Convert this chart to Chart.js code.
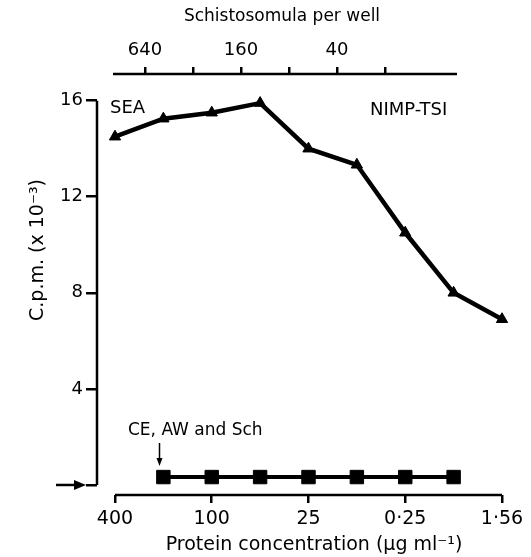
<!DOCTYPE html>
<html>
<head>
<meta charset="utf-8">
<script src="https://cdn.jsdelivr.net/npm/chart.js@4.4.1/dist/chart.umd.min.js"></script>
<style>
  html, body { margin: 0; padding: 0; background: #fff; }
  #wrap { width: 531px; height: 557px; position: relative; }
</style>
</head>
<body>
<div id="wrap"><canvas id="grafica"></canvas></div>
<script>
// Eje inferior: concentración de proteína (una posición por dilución)
const concLabels = ['400', '', '100', '', '25', '', '0·25', '', '1·56'];
// Eje superior: esquistosómulas por pocillo
const schistoLabels = ['640', '', '160', '', '40', ''];
const yTicks = [0, 4, 8, 12, 16];

// Valores (c.p.m. x 10^-3)
const seaValues = [14.5, 15.25, 15.5, 15.9, 14.0, 13.33, 10.5, 8.0, 6.9];
const ceAwSchValues = [null, 0.33, 0.33, 0.33, 0.33, 0.33, 0.33, 0.33, null];

const FUENTE = "'DejaVu Sans', sans-serif";
Chart.defaults.font.family = FUENTE;
Chart.defaults.color = '#000';

// Dibuja las líneas de los ejes, los títulos y las anotaciones
const decoracion = {
    id: 'decoracion',
    afterDraw(chart) {
        const { ctx, chartArea } = chart;
        const { x, x2, y } = chart.scales;
        ctx.save();
        ctx.strokeStyle = '#000';
        ctx.fillStyle = '#000';
        ctx.lineWidth = 2.5;

        // lineas de ejes
        ctx.beginPath();
        ctx.moveTo(chartArea.left, y.getPixelForValue(16));
        ctx.lineTo(chartArea.left, y.getPixelForValue(0));
        ctx.moveTo(x.getPixelForValue(0), chartArea.bottom);
        ctx.lineTo(x.getPixelForValue(8), chartArea.bottom);
        ctx.moveTo(x2.getPixelForValue(-0.667), chartArea.top);
        ctx.lineTo(x2.getPixelForValue(6.5), chartArea.top);
        ctx.stroke();

        // flecha del cero
        const y0 = y.getPixelForValue(0);
        ctx.beginPath();
        ctx.moveTo(56, y0);
        ctx.lineTo(76, y0);
        ctx.stroke();
        ctx.beginPath();
        ctx.moveTo(86, y0);
        ctx.lineTo(74, y0 - 5);
        ctx.lineTo(74, y0 + 5);
        ctx.closePath();
        ctx.fill();

        // titulos
        ctx.textAlign = 'center';
        ctx.textBaseline = 'middle';
        ctx.font = '17px ' + FUENTE;
        ctx.fillText('Schistosomula per well', 282, 17);
        ctx.font = '19px ' + FUENTE;
        ctx.fillText('Protein concentration (μg ml⁻¹)', 314, 545);
        ctx.save();
        ctx.translate(38, 250);
        ctx.rotate(-Math.PI / 2);
        ctx.font = '19px ' + FUENTE;
        ctx.fillText('C.p.m. (x 10⁻³)', 0, 0);
        ctx.restore();

        // anotaciones
        ctx.textAlign = 'left';
        ctx.font = '18px ' + FUENTE;
        ctx.fillText('SEA', 110, 108);
        ctx.fillText('NIMP-TSI', 370, 110);
        ctx.font = '17px ' + FUENTE;
        ctx.fillText('CE, AW and Sch', 128, 431);

        // flecha hacia CE, AW and Sch
        const xa = x.getPixelForValue(0.92);
        ctx.lineWidth = 1.5;
        ctx.beginPath();
        ctx.moveTo(xa, 443);
        ctx.lineTo(xa, 460);
        ctx.stroke();
        ctx.beginPath();
        ctx.moveTo(xa, 466);
        ctx.lineTo(xa - 3, 458);
        ctx.lineTo(xa + 3, 458);
        ctx.closePath();
        ctx.fill();
        ctx.restore();
    }
};

const ctx = document.getElementById('grafica').getContext('2d');
const grafica = new Chart(ctx, {
    type: 'line',
    data: {
        datasets: [{
            label: 'SEA',
            data: seaValues.map((v, i) => ({ x: i, y: v })),
            borderColor: '#000',
            backgroundColor: '#000',
            borderWidth: 4.5,
            pointStyle: 'triangle',
            pointRadius: 6.5,
            pointBorderWidth: 1,
            tension: 0,
            xAxisID: 'x'
        }, {
            label: 'CE, AW and Sch',
            data: ceAwSchValues.map((v, i) => ({ x: i, y: v })),
            borderColor: '#000',
            backgroundColor: '#000',
            borderWidth: 4,
            pointStyle: 'rect',
            pointRadius: 9.5,
            pointBorderWidth: 1,
            tension: 0,
            xAxisID: 'x'
        }]
    },
    options: {
        responsive: true,
        maintainAspectRatio: false,
        animation: false,
        clip: false,
        layout: { padding: { left: 0, right: 29, top: 0, bottom: 0 } },
        plugins: {
            legend: { display: false },
            tooltip: { enabled: false }
        },
        scales: {
            x: {
                type: 'linear',
                position: 'bottom',
                min: -0.372,
                max: 8,
                afterFit: (s) => { s.height = 62; },
                afterBuildTicks: (s) => { s.ticks = concLabels.map((_, i) => ({ value: i })).filter(t => t.value % 2 === 0); },
                border: { display: false },
                grid: { drawOnChartArea: false, color: '#000', lineWidth: 2.5, tickLength: 8 },
                ticks: {
                    font: { size: 19 },
                    padding: 5,
                    maxRotation: 0,
                    autoSkip: false,
                    callback: (v) => concLabels[v] ?? ''
                }
            },
            x2: {
                type: 'linear',
                position: 'top',
                min: -1,
                max: 7.4375,
                afterFit: (s) => { s.height = 74; },
                afterBuildTicks: (s) => { s.ticks = schistoLabels.map((_, i) => ({ value: i })); },
                border: { display: false },
                grid: { drawOnChartArea: false, color: '#000', lineWidth: 2.5, tickLength: 7 },
                ticks: {
                    font: { size: 18 },
                    padding: 6,
                    maxRotation: 0,
                    autoSkip: false,
                    callback: (v) => schistoLabels[v] ?? ''
                }
            },
            y: {
                type: 'linear',
                min: -0.417,
                max: 17.11,
                afterFit: (s) => { s.width = 97; },
                afterBuildTicks: (s) => { s.ticks = yTicks.map(v => ({ value: v })); },
                border: { display: false },
                grid: { drawOnChartArea: false, color: '#000', lineWidth: 2.5, tickLength: 11 },
                ticks: {
                    font: { size: 18 },
                    padding: 3,
                    callback: (v) => (v === 0 ? '' : v)
                }
            }
        }
    },
    plugins: [decoracion]
});
</script>
</body>
</html>
